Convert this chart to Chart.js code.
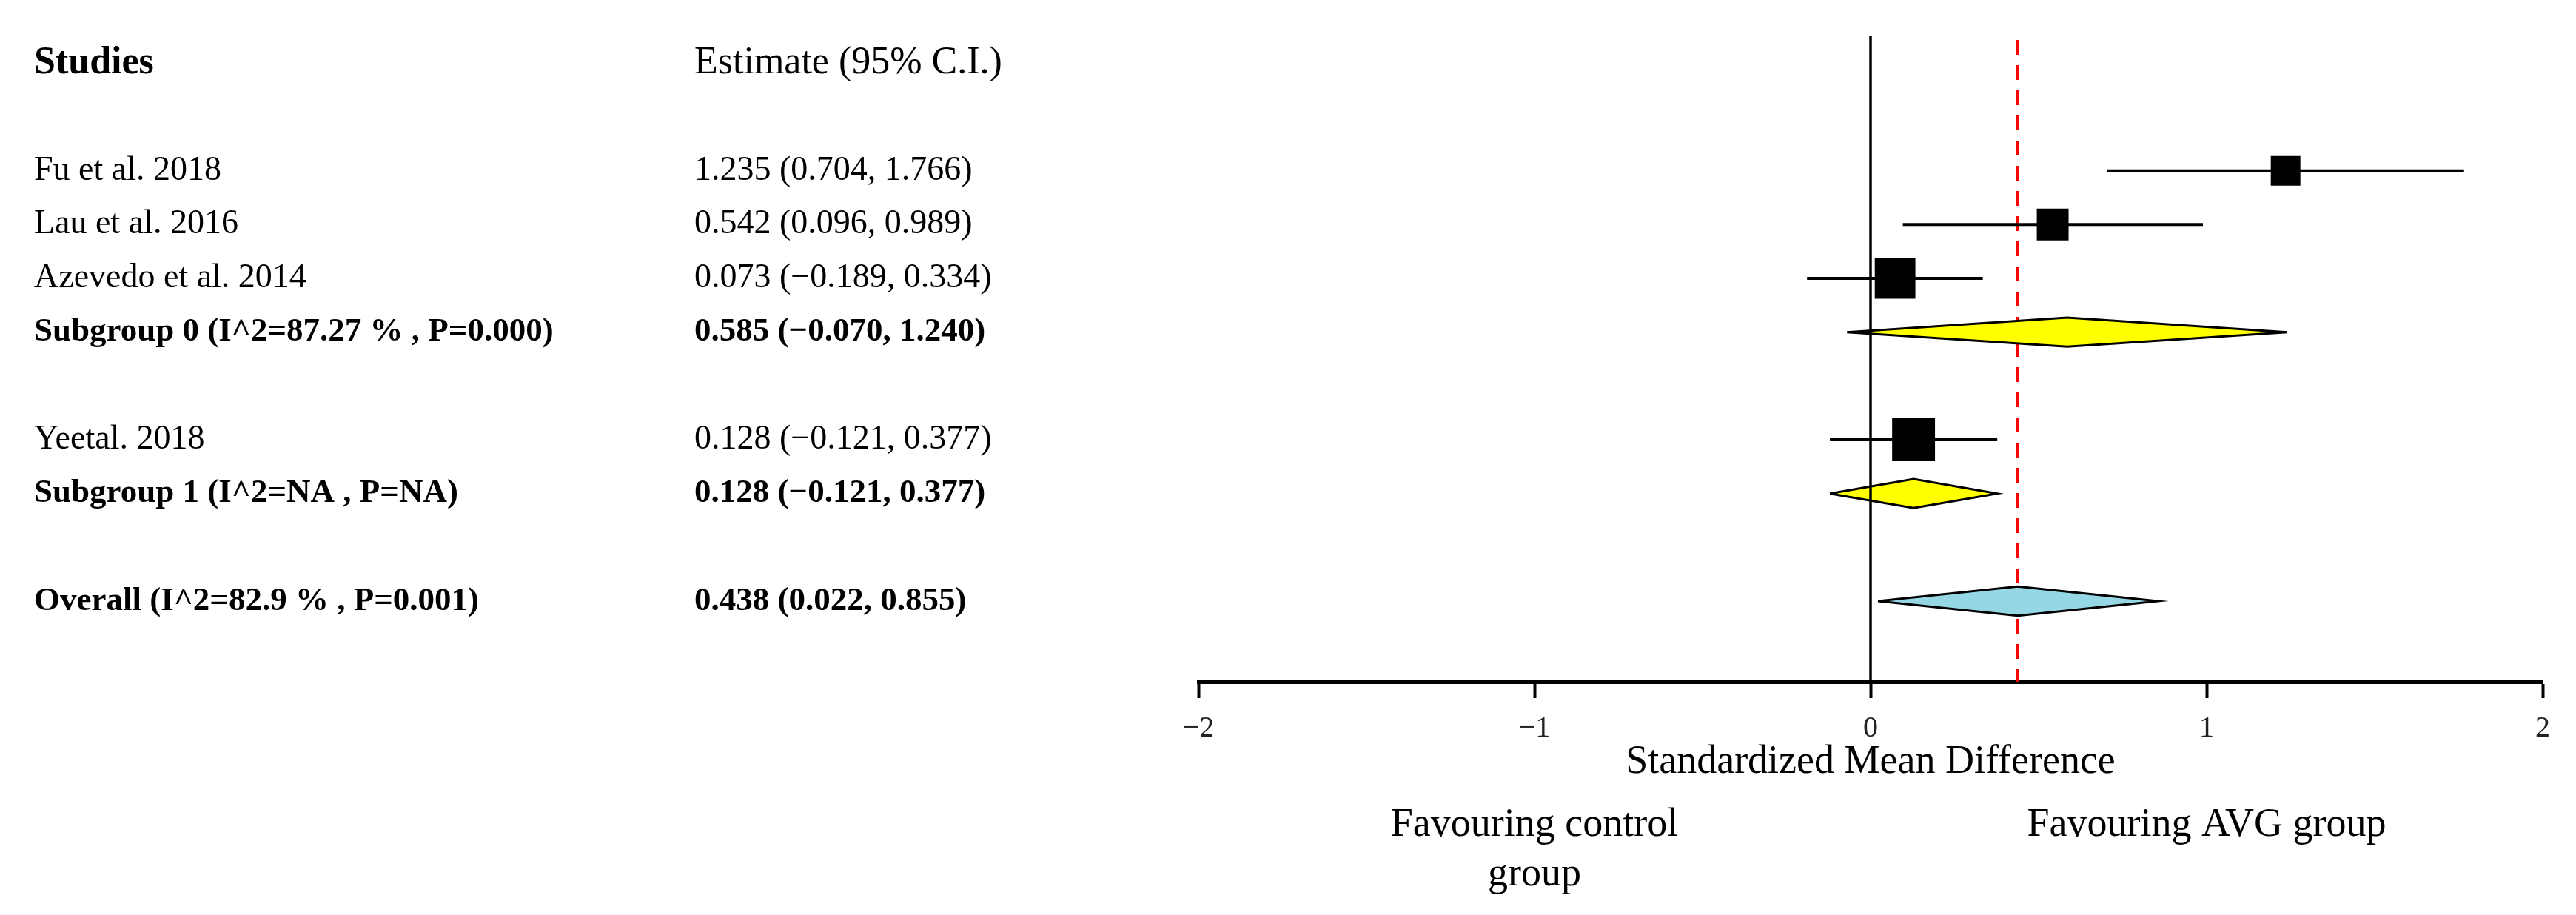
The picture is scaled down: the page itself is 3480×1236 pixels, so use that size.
<!DOCTYPE html>
<html>
<head>
<meta charset="utf-8">
<script src="https://cdn.jsdelivr.net/npm/chart.js@4.4.0/dist/chart.umd.min.js"></script>
<style>
  html, body { margin: 0; padding: 0; background: #fff; }
  #forest { display: block; }
</style>
</head>
<body>
<canvas id="forest" width="3480" height="1236"></canvas>
<script>
// Study data
const studyNames = ['Fu et al. 2018', 'Lau et al. 2016', 'Azevedo et al. 2014', 'Yeetal. 2018'];
const studyEst = [1.235, 0.542, 0.073, 0.128];
const studyLow = [0.704, 0.096, -0.189, -0.121];
const studyHigh = [1.766, 0.989, 0.334, 0.377];
const studyWeight = [16.3, 18.8, 30.7, 34.2];
const studyRows = [0, 1, 2, 5];

// Pooled estimates
const poolNames = ['Subgroup 0 (I^2=87.27 % , P=0.000)', 'Subgroup 1 (I^2=NA , P=NA)', 'Overall (I^2=82.9 % , P=0.001)'];
const poolEst = [0.585, 0.128, 0.438];
const poolLow = [-0.070, -0.121, 0.022];
const poolHigh = [1.240, 0.377, 0.855];
const poolRows = [3, 6, 8];
const poolColors = ['#ffff00', '#ffff00', '#96d7e6'];

const xTicks = [-2, -1, 0, 1, 2];
const headers = ['Studies', 'Estimate (95% C.I.)'];
const axisTitle = 'Standardized Mean Difference';
const favourLeft = ['Favouring control', 'group'];
const favourRight = ['Favouring AVG group'];

const FONT = '"Liberation Serif", "Times New Roman", serif';
const diamondHalf = 0.27;

function fmt(v) {
  const s = Math.abs(v).toFixed(3);
  return v < 0 ? '\u2212' + s : s;
}
function ciText(e, lo, hi) {
  return `${fmt(e)} (${fmt(lo)}, ${fmt(hi)})`;
}

// Build datasets
const datasets = [];

// reference line at overall estimate
datasets.push({
  data: [{ x: poolEst[2], y: -2.43 }, { x: poolEst[2], y: 9.5 }],
  showLine: true, borderColor: '#ff0000', borderWidth: 4, borderDash: [20, 14],
  pointRadius: 0, order: 6
});

// CI whiskers
studyRows.forEach((r, i) => {
  datasets.push({
    data: [{ x: studyLow[i], y: r }, { x: studyHigh[i], y: r }],
    showLine: true, borderColor: '#000', borderWidth: 4, pointRadius: 0, order: 5
  });
});

// diamonds
poolRows.forEach((r, i) => {
  datasets.push({
    data: [
      { x: poolLow[i], y: r },
      { x: poolEst[i], y: r - diamondHalf },
      { x: poolHigh[i], y: r },
      { x: poolEst[i], y: r + diamondHalf },
      { x: poolLow[i], y: r }
    ],
    showLine: true, fill: 'shape', backgroundColor: poolColors[i],
    borderColor: '#000', borderWidth: 3, pointRadius: 0, order: 4
  });
});

// line of no effect
datasets.push({
  data: [{ x: 0, y: -2.5 }, { x: 0, y: 9.5 }],
  showLine: true, borderColor: '#000', borderWidth: 3.5, pointRadius: 0, order: 3
});

// study squares, area proportional to weight
datasets.push({
  data: studyEst.map((e, i) => ({ x: e, y: studyRows[i] })),
  pointStyle: 'rect',
  pointRadius: studyWeight.map(w => 9.9 * Math.sqrt(w) / Math.SQRT2),
  backgroundColor: '#000', borderWidth: 0, order: 1
});

// text columns
const tablePlugin = {
  id: 'tableText',
  afterDraw(chart) {
    const ctx = chart.ctx;
    const ys = chart.scales.y;
    const xs = chart.scales.x;
    ctx.save();
    ctx.fillStyle = '#000';
    ctx.textBaseline = 'middle';
    ctx.textAlign = 'left';

    const yHead = ys.getPixelForValue(-2);
    ctx.font = `bold 52px ${FONT}`;
    ctx.fillText(headers[0], 46, yHead);
    ctx.font = `52px ${FONT}`;
    ctx.fillText(headers[1], 938, yHead);

    ctx.font = `46px ${FONT}`;
    studyRows.forEach((r, i) => {
      const y = ys.getPixelForValue(r);
      ctx.fillText(studyNames[i], 46, y);
      ctx.fillText(ciText(studyEst[i], studyLow[i], studyHigh[i]), 938, y);
    });

    ctx.font = `bold 45px ${FONT}`;
    poolRows.forEach((r, i) => {
      const y = ys.getPixelForValue(r);
      ctx.fillText(poolNames[i], 46, y);
      ctx.fillText(ciText(poolEst[i], poolLow[i], poolHigh[i]), 938, y);
    });

    // favouring labels
    ctx.font = `54px ${FONT}`;
    ctx.textAlign = 'center';
    favourLeft.forEach((t, k) => ctx.fillText(t, xs.getPixelForValue(-1), 1115 + k * 67));
    favourRight.forEach((t, k) => ctx.fillText(t, xs.getPixelForValue(1), 1115 + k * 67));
    ctx.restore();
  }
};

new Chart(document.getElementById('forest'), {
  type: 'scatter',
  data: { datasets: datasets },
  options: {
    responsive: false,
    animation: false,
    events: [],
    layout: { padding: { left: 1619, right: 45, top: 49, bottom: 0 } },
    plugins: { legend: { display: false }, tooltip: { enabled: false } },
    scales: {
      x: {
        type: 'linear',
        min: -2, max: 2,
        afterBuildTicks: s => { s.ticks = xTicks.map(v => ({ value: v })); },
        afterFit: s => { s.height = 315; },
        ticks: {
          color: '#222',
          font: { family: FONT, size: 40 },
          padding: 17,
          callback: v => (v < 0 ? '\u2212' + Math.abs(v) : String(v))
        },
        grid: { display: true, drawOnChartArea: false, drawTicks: true, tickLength: 22, tickColor: '#000', tickWidth: 4 },
        border: { display: true, color: '#000', width: 5 },
        title: {
          display: true, text: axisTitle, color: '#000',
          font: { family: FONT, size: 54 },
          padding: { top: 0, bottom: 174 }
        }
      },
      y: {
        type: 'linear',
        display: false,
        reverse: true,
        min: -2.5, max: 9.5
      }
    }
  },
  plugins: [tablePlugin]
});
</script>
</body>
</html>
